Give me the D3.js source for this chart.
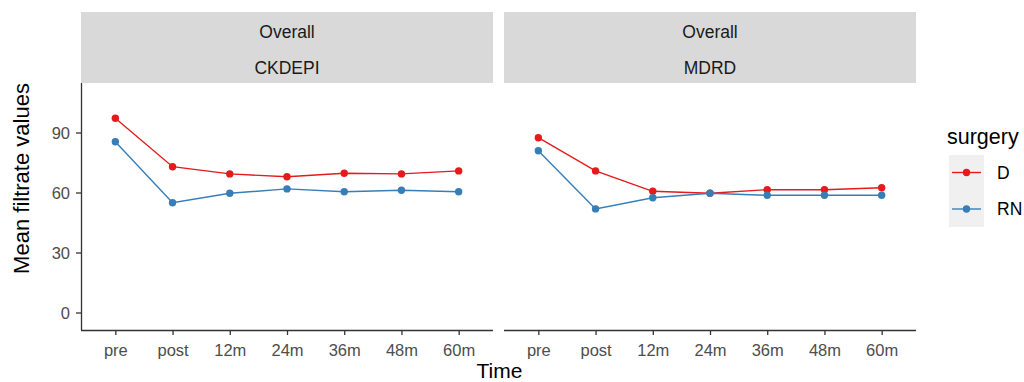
<!DOCTYPE html>
<html><head><meta charset="utf-8">
<script src="https://cdn.jsdelivr.net/npm/d3@7"></script>
<style>body{margin:0;background:#fff}svg{display:block;font-family:"Liberation Sans",Arial,sans-serif}</style>
</head><body><svg id="c" width="1024" height="382"></svg>
<script>
const times = ["pre","post","12m","24m","36m","48m","60m"];
const panels = ["CKDEPI","MDRD"];
const stripTop = "Overall";
const groups = ["D","RN"];
const colors = ["#E41A1C","#377EB8"];
const ckdepiD  = [97.1, 72.9, 69.3, 67.9, 69.6, 69.3, 70.8];
const ckdepiRN = [85.4, 54.9, 59.6, 61.8, 60.4, 61.1, 60.4];
const mdrdD    = [87.4, 70.8, 60.6, 59.6, 61.4, 61.4, 62.4];
const mdrdRN   = [80.9, 51.8, 57.4, 59.6, 58.6, 58.6, 58.6];
const yTicks = [0,30,60,90];
const xTitle = "Time", yTitle = "Mean filtrate values", legendTitle = "surgery";

const series = {CKDEPI:[ckdepiD, ckdepiRN], MDRD:[mdrdD, mdrdRN]};
const svg = d3.select("#c");
const panelX = [81, 504], panelW = 412, pTop = 83, pBottom = 330;
const y = d3.scaleLinear().domain([-8.75, 114.75]).range([pBottom, pTop]);
const FF = "Liberation Sans, Arial, sans-serif";

panels.forEach((p, i) => {
  const x0 = panelX[i];
  const x = d3.scalePoint().domain(times).range([x0, x0 + panelW]).padding(0.6);
  svg.append("rect").attr("x", x0).attr("y", 12).attr("width", panelW).attr("height", 71).attr("fill", "#d9d9d9");
  svg.append("text").attr("x", x0 + panelW/2).attr("y", 37.5).attr("text-anchor","middle").attr("font-size",17.5).attr("fill","#1a1a1a").text(stripTop);
  svg.append("text").attr("x", x0 + panelW/2).attr("y", 74).attr("text-anchor","middle").attr("font-size",17.5).attr("fill","#1a1a1a").text(p);
  const gx = svg.append("g").attr("transform", `translate(0,${pBottom})`).call(d3.axisBottom(x).tickSize(5).tickPadding(4).tickSizeOuter(0));
  gx.select(".domain").attr("stroke","#333").attr("stroke-width",1.3).attr("d", `M${x0},0.5H${x0+panelW}`);
  gx.selectAll(".tick line").attr("stroke","#333").attr("stroke-width",1.3);
  gx.selectAll(".tick text").attr("font-size",16.5).attr("fill","#4d4d4d").attr("font-family",FF).attr("y",25.5).attr("dy",null);
  if (i === 0) {
    const gy = svg.append("g").attr("transform", `translate(${x0},0)`).call(d3.axisLeft(y).tickValues(yTicks).tickSize(5).tickPadding(6).tickSizeOuter(0));
    gy.select(".domain").attr("stroke","#333").attr("stroke-width",1.3).attr("d", `M0.5,${pTop}V${pBottom}`);
    gy.selectAll(".tick line").attr("stroke","#333").attr("stroke-width",1.3);
    gy.selectAll(".tick text").attr("font-size",16.5).attr("fill","#4d4d4d").attr("font-family",FF).attr("dy","0.36em");
  }
  const line = d3.line().x((d, j) => x(times[j])).y(d => y(d));
  series[p].forEach((vals, k) => {
    svg.append("path").datum(vals).attr("d", line).attr("fill","none").attr("stroke", colors[k]).attr("stroke-width",1.4);
    svg.selectAll(null).data(vals).enter().append("circle")
      .attr("cx", (d, j) => x(times[j])).attr("cy", d => y(d)).attr("r", 3.7).attr("fill", colors[k]);
  });
});

svg.append("text").attr("x", 499.5).attr("y", 377.5).attr("text-anchor","middle").attr("font-size",21).attr("fill","#000").text(xTitle);
svg.append("text").attr("transform", "translate(28.5,178.5) rotate(-90)").attr("text-anchor","middle").attr("font-size",22).attr("fill","#000").text(yTitle);

svg.append("text").attr("x", 947).attr("y", 143.5).attr("font-size",21.5).attr("fill","#000").text(legendTitle);
svg.append("rect").attr("x", 949).attr("y", 155).attr("width", 35).attr("height", 72).attr("fill", "#f0f0f0");
groups.forEach((g, k) => {
  const cy = 172.5 + k * 36.5;
  svg.append("line").attr("x1", 952).attr("x2", 981).attr("y1", cy).attr("y2", cy).attr("stroke", colors[k]).attr("stroke-width",1.4);
  svg.append("circle").attr("cx", 966.5).attr("cy", cy).attr("r", 3.7).attr("fill", colors[k]);
  svg.append("text").attr("x", 997).attr("y", cy + 6.3).attr("font-size",17.5).attr("fill","#000").text(g);
});
</script></body></html>
